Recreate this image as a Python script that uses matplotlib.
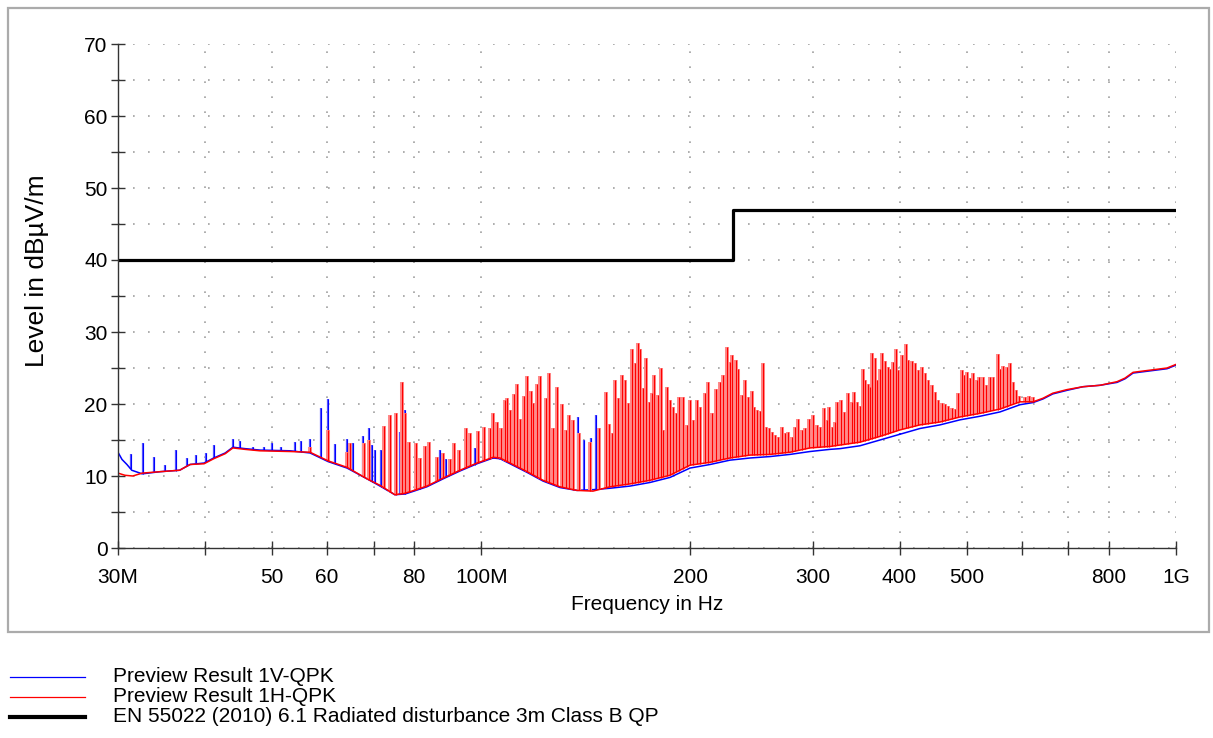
import numpy as np
import matplotlib.pyplot as plt
from matplotlib.lines import Line2D
from matplotlib.patches import Rectangle

plt.rcParams['font.family'] = ['Liberation Sans', 'DejaVu Sans']

# limit line: EN 55022 class B QP (MHz, dBuV/m), stepped
limit_freq = [30, 230, 1000]
limit_level = [40, 47, 47]

# horizontal (red) trace baseline
red_base_freq = [30.0, 30.7, 31.5, 32.5, 34.5, 36.8, 37.6, 38.1, 39.9, 41.2, 42.8, 43.9,
                 45.7, 48.0, 53.1, 56.7, 60.2, 64.1, 68.5, 71.5, 75.1, 77.7, 80.0, 83.5,
                 88.1, 93.2, 98.6, 104.0, 106.4, 110.0, 116.4, 122.7, 129.8, 137.3, 144.8,
                 153.2, 163.7, 174.9, 186.9, 199.7, 213.5, 228.0, 243.6, 260.4, 278.3,
                 297.3, 317.7, 328.4, 350.9, 374.9, 400.6, 428.1, 457.4, 488.8, 522.3,
                 558.1, 596.3, 622.6, 643.5, 664.7, 696.9, 734.7, 777.4, 822.5, 844.6,
                 867.4, 917.5, 970.7, 1000.0]
red_base_level = [10.4, 10.1, 10.0, 10.4, 10.6, 10.8, 11.3, 11.6, 11.7, 12.4, 13.1, 13.9,
                  13.7, 13.5, 13.4, 13.3, 12.1, 11.2, 9.6, 8.7, 7.4, 7.6, 8.0, 8.6,
                  9.7, 10.8, 11.8, 12.6, 12.5, 11.8, 10.6, 9.4, 8.5, 8.0, 7.9,
                  8.5, 8.9, 9.4, 10.1, 11.5, 11.9, 12.5, 12.9, 13.0, 13.3,
                  13.9, 14.1, 14.3, 14.7, 15.5, 16.4, 17.1, 17.5, 18.2, 18.7,
                  19.3, 20.3, 20.3, 20.8, 21.5, 22.0, 22.4, 22.6, 23.1, 23.6,
                  24.4, 24.7, 25.0, 25.5]

# vertical (blue) trace baseline
blue_base_freq = [30.0, 30.4, 30.9, 31.4, 32.5, 34.5, 36.8, 37.6, 38.1, 39.9, 41.2, 42.8,
                  43.9, 45.7, 48.0, 53.1, 56.7, 60.2, 64.1, 68.5, 71.5, 75.1, 77.7, 80.0,
                  83.5, 88.1, 93.2, 98.6, 104.0, 106.4, 110.0, 116.4, 122.7, 129.8, 137.3,
                  144.8, 153.2, 163.7, 174.9, 186.9, 199.7, 213.5, 228.0, 243.6, 260.4,
                  278.3, 297.3, 317.7, 328.4, 350.9, 374.9, 400.6, 428.1, 457.4, 488.8,
                  522.3, 558.1, 596.3, 622.6, 643.5, 664.7, 696.9, 734.7, 777.4, 822.5,
                  844.6, 867.4, 917.5, 970.7, 1000.0]
blue_base_level = [13.3, 12.3, 11.6, 10.8, 10.3, 10.6, 10.8, 11.3, 11.6, 11.8, 12.5, 13.2,
                   14.0, 13.8, 13.6, 13.5, 13.2, 12.0, 11.1, 9.6, 8.6, 7.4, 7.5, 7.9,
                   8.5, 9.6, 10.7, 11.7, 12.5, 12.4, 11.7, 10.5, 9.3, 8.4, 8.0,
                   8.1, 8.3, 8.6, 9.1, 9.8, 11.1, 11.6, 12.2, 12.5, 12.7,
                   13.0, 13.4, 13.7, 13.8, 14.2, 15.0, 15.8, 16.6, 17.1, 17.8,
                   18.3, 18.9, 19.9, 20.2, 20.7, 21.4, 21.9, 22.4, 22.6, 23.0,
                   23.5, 24.3, 24.6, 24.9, 25.4]

# peaks above the baseline (MHz, dBuV/m)
red_spike_freq = [56.6, 60.1, 64.0, 64.7, 67.8, 68.9, 72.5, 73.9, 75.3, 76.8, 77.7, 78.8,
                  80.5, 81.6, 83.0, 84.2, 86.4, 88.0, 90.2, 91.4, 93.0, 95.1, 96.3, 99.0,
                  100.8, 102.8, 103.9, 105.2, 106.8, 108.2, 109.0, 110.0, 111.6, 112.5,
                  113.7, 115.3, 116.3, 117.9, 118.8, 120.4, 121.5, 123.8, 125.3, 126.7,
                  128.6, 130.5, 132.3, 133.9, 135.4, 138.1, 143.4, 147.9, 151.2, 152.7,
                  154.0, 155.8, 157.5, 159.3, 161.0, 162.8, 164.7, 166.4, 167.9, 169.2,
                  171.1, 172.4, 174.3, 175.9, 177.4, 179.4, 181.2, 182.8, 184.9, 186.9,
                  189.0, 190.6, 192.8, 194.9, 197.5, 199.7, 202.0, 204.6, 206.5, 210.0,
                  212.3, 214.6, 217.7, 220.6, 223.0, 225.5, 228.0, 229.5, 232.4, 234.4,
                  237.0, 239.6, 242.3, 245.0, 246.9, 249.6, 251.9, 254.2, 256.7, 259.5,
                  261.8, 264.8, 267.7, 271.3, 273.7, 276.8, 279.8, 282.9, 286.0, 289.2,
                  292.4, 296.6, 300.0, 303.9, 307.3, 311.4, 314.2, 316.9, 319.5, 323.0,
                  325.5, 329.2, 332.8, 337.5, 341.4, 344.0, 347.1, 350.9, 354.1, 356.8,
                  360.8, 362.7, 365.5, 368.7, 371.5, 374.9, 377.8, 381.2, 384.6, 387.5,
                  391.0, 395.3, 398.4, 402.9, 408.7, 411.7, 416.4, 421.0, 425.7, 430.5,
                  435.2, 440.1, 445.0, 449.9, 454.8, 460.0, 465.0, 470.3, 475.4, 480.7,
                  486.1, 491.6, 495.4, 499.7, 505.3, 510.8, 516.6, 521.1, 527.0, 532.8,
                  539.9, 545.9, 553.9, 558.1, 564.2, 570.6, 576.9, 582.0, 588.4, 594.9,
                  606.9, 613.7, 621.8]
red_spike_level = [14.0, 16.4, 13.3, 14.6, 14.6, 15.0, 16.9, 18.5, 18.8, 23.1, 18.8, 14.7,
                   14.6, 12.5, 14.1, 14.7, 12.6, 13.2, 12.4, 14.6, 13.6, 16.6, 16.0, 16.3,
                   16.8, 16.6, 18.7, 17.5, 16.6, 20.6, 20.8, 19.2, 21.4, 22.8,
                   17.9, 21.1, 23.9, 21.8, 20.1, 22.8, 23.9, 20.8, 24.3, 16.6,
                   22.4, 20.0, 16.4, 18.5, 17.8, 16.0, 14.7, 16.6, 21.7, 17.2,
                   16.0, 23.3, 20.8, 24.0, 23.3, 20.1, 27.6, 25.7, 28.5, 27.6,
                   22.2, 26.4, 20.3, 21.5, 24.0, 21.3, 25.0, 16.4, 22.4, 20.6,
                   19.6, 18.7, 21.0, 21.0, 17.1, 20.6, 17.8, 20.6, 19.6, 21.5,
                   23.1, 18.7, 22.1, 23.1, 24.0, 27.9, 25.8, 26.8, 26.1, 24.9,
                   21.3, 23.3, 21.0, 21.8, 19.6, 19.2, 19.0, 25.7, 16.8, 16.6,
                   16.1, 15.7, 15.4, 16.8, 16.0, 16.1, 15.4, 16.8, 17.9, 16.4,
                   16.6, 17.9, 18.5, 17.1, 16.8, 19.4, 17.8, 19.6, 16.8, 17.5,
                   20.3, 20.6, 18.9, 21.5, 20.3, 21.7, 20.3, 19.7, 24.9, 23.3,
                   22.8, 22.4, 27.1, 26.4, 23.3, 24.9, 27.1, 26.0, 25.2, 24.9,
                   25.8, 27.7, 24.7, 26.8, 28.3, 26.1, 26.0, 25.7, 24.7, 25.1,
                   24.3, 23.3, 22.6, 21.7, 20.6, 20.1, 20.0, 19.7, 19.4, 19.3,
                   21.5, 24.7, 24.0, 24.4, 23.6, 24.3, 23.3, 23.8, 23.8, 22.6,
                   23.8, 23.8, 26.9, 24.9, 25.3, 25.1, 25.7, 23.1, 21.9, 21.1,
                   21.0, 21.1, 21.0]

blue_spike_freq = [31.3, 32.6, 33.8, 35.1, 36.3, 37.7, 38.9, 40.1, 41.2, 43.9, 45.0, 47.0,
                   48.6, 50.0, 51.5, 53.9, 55.1, 56.6, 58.8, 60.1, 61.5, 64.0, 65.4, 67.6,
                   68.9, 69.6, 70.3, 71.7, 76.4, 77.6, 81.6, 87.2, 89.0, 97.9, 104.0, 106.0,
                   109.5, 113.0, 137.9, 140.7, 144.0, 146.5, 400.6]
blue_spike_level = [13.1, 14.6, 12.6, 11.5, 13.6, 12.5, 12.9, 13.2, 14.3, 15.1, 14.9, 14.0,
                    14.0, 14.6, 14.0, 14.7, 14.9, 15.1, 19.4, 20.7, 14.5, 15.1, 14.6, 15.5,
                    16.6, 14.3, 13.6, 13.6, 16.1, 19.1, 11.8, 13.6, 12.3, 13.9, 15.3, 15.5,
                    14.0, 16.0, 18.2, 15.0, 15.3, 18.5, 16.0]

legend_labels = ['Preview Result 1V-QPK', 'Preview Result 1H-QPK',
                 'EN 55022 (2010) 6.1 Radiated disturbance 3m Class B QP']


def spike_bottoms(freqs, base_f, base_l):
    return np.interp(np.log(freqs), np.log(base_f), base_l)


fig = plt.figure(figsize=(12.13, 7.38), dpi=100)
fig.add_artist(Rectangle((0.0066, 0.1436), 0.9905, 0.8455, transform=fig.transFigure,
                         fill=False, edgecolor='#ababab', linewidth=1.6))
ax = fig.add_axes([118 / 1213, 190 / 738, 1058 / 1213, 504 / 738])

# blue trace first, red on top
blue_bottom = spike_bottoms(blue_spike_freq, blue_base_freq, blue_base_level)
ax.vlines(blue_spike_freq, blue_bottom, blue_spike_level, color='#5050ff', linewidth=1.6)
ax.vlines(blue_spike_freq, blue_bottom, blue_spike_level, color='blue', linewidth=0.7)
ax.plot(blue_base_freq, blue_base_level, color='blue', linewidth=1.1)

red_bottom = spike_bottoms(red_spike_freq, red_base_freq, red_base_level)
ax.vlines(red_spike_freq, red_bottom, red_spike_level, color='#ff8a8a', linewidth=2.9)
ax.vlines(red_spike_freq, red_bottom, red_spike_level, color='red', linewidth=0.8)
ax.plot(red_base_freq, red_base_level, color='red', linewidth=1.1)

ax.plot(limit_freq, limit_level, color='black', linewidth=2.3, drawstyle='steps-post')

ax.set_xscale('log')
ax.set_xlim(30, 1000)
ax.set_ylim(0, 70)

xticks = [30, 40, 50, 60, 70, 80, 100, 200, 300, 400, 500, 600, 700, 800, 1000]
xlabels = ['30M', '', '50', '60', '', '80', '100M', '200', '300', '400', '500', '', '', '800', '1G']
ax.set_xticks(xticks)
ax.set_xticklabels(xlabels)
ax.xaxis.set_minor_locator(plt.NullLocator())
ax.set_yticks(range(0, 71, 10))
ax.set_yticks(range(5, 70, 10), minor=True)

ax.tick_params(which='both', direction='inout', length=10, width=1.0, color='#333333',
               labelsize=15)
ax.tick_params(axis='x', pad=9.5)
ax.tick_params(axis='y', pad=2.5)

for s in ['top', 'right']:
    ax.spines[s].set_visible(False)
for s in ['left', 'bottom']:
    ax.spines[s].set_color('#333333')
    ax.spines[s].set_linewidth(1.0)

ax.grid(True, which='both', color='#a0a0a0', linestyle=(0, (1, 8)), linewidth=1.2)
ax.set_axisbelow(True)

ax.set_xlabel('Frequency in Hz', fontsize=15, labelpad=6)
ax.set_ylabel('Level in dBµV/m', fontsize=19)
ax.yaxis.set_label_coords(-0.065, 0.55)

# legend below the frame
leg_colors = ['blue', 'red', 'black']
leg_widths = [0.9, 0.9, 3.0]
for i, (lab, c, w) in enumerate(zip(legend_labels, leg_colors, leg_widths)):
    y = 1 - (677 + 20 * i) / 738
    fig.add_artist(Line2D([10 / 1213, 85 / 1213], [y, y], color=c, linewidth=w,
                          transform=fig.transFigure))
    fig.text(113 / 1213, y, lab, fontsize=15, va='center', ha='left')

fig.savefig('out.png', dpi=100)
